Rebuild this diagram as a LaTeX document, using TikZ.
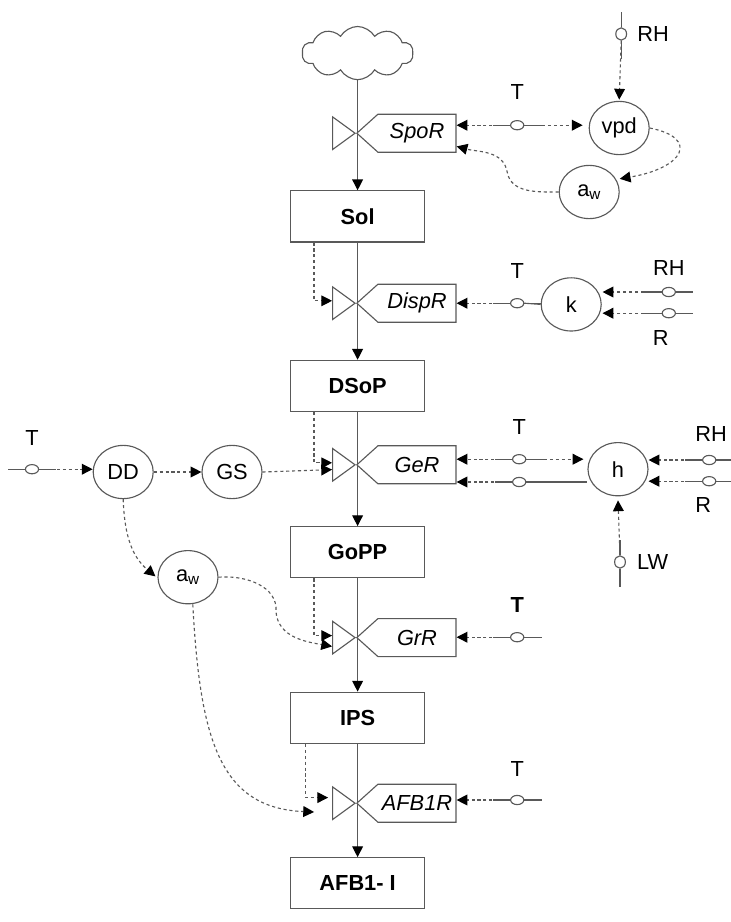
\documentclass[tikz,border=0pt]{standalone}
\usepackage{fontspec}
\setmainfont{Liberation Sans}
\usepackage{tikz}
\usetikzlibrary{positioning,arrows.meta,shapes.geometric,shapes.symbols}

\tikzset{
  wire/.style={draw=black!65, line width=0.8pt},
  dep/.style={wire, dash pattern=on 2.2pt off 2pt, -{Triangle[length=0.27cm,width=0.27cm,black]}},
  flow/.style={wire, -{Triangle[length=0.27cm,width=0.27cm,black]}},
  stock/.style={rectangle, wire, minimum width=3.35cm, minimum height=1.28cm, inner sep=0pt, font=\fontsize{15.5}{18}\selectfont\bfseries},
  aux/.style={ellipse, wire, minimum width=1.5cm, minimum height=1.33cm, inner sep=0pt},
  rate/.style={signal, signal to=west, signal pointer angle=84, wire, minimum width=2.48cm, minimum height=0.95cm, inner sep=0pt, font=\fontsize{15.5}{18}\selectfont\itshape},
  valve/.style={isosceles triangle, isosceles triangle apex angle=72, wire, minimum height=0.56cm, inner sep=0pt, anchor=apex},
  hsensor/.style={ellipse, wire, minimum width=0.33cm, minimum height=0.23cm, inner sep=0pt,
    append after command={(\tikzlastnode.west) edge[wire] ++(-0.43,0) (\tikzlastnode.east) edge[wire] ++(0.43,0)}},
  vsensor/.style={ellipse, wire, minimum width=0.27cm, minimum height=0.31cm, inner sep=0pt,
    append after command={(\tikzlastnode.north) edge[wire] ++(0,0.38) (\tikzlastnode.south) edge[wire] ++(0,-0.45)}},
  tag/.style={inner sep=0pt},
}

\begin{document}
\begin{tikzpicture}[node distance=2.83cm, every node/.style={font=\fontsize{15.5}{18}\selectfont}]
\useasboundingbox (0,0) rectangle (18.275,-23.05);
% stocks
\node (Sol) [stock] at (8.94,-5.41) {Sol};
\node (DSoP) [stock, below=2.93cm of Sol] {DSoP};
\node (GoPP) [stock, below=2.85cm of DSoP] {GoPP};
\node (IPS) [stock, below=of GoPP] {IPS};
\node (AFB) [stock, below=of IPS] {AFB1- I};
\node (Cloud) [cloud, cloud puffs=10, cloud puff arc=120, aspect=2.1, wire, minimum width=2.78cm, minimum height=1.33cm, inner sep=0pt, above=2.75cm of Sol] {};
% rates
\node (SpoR) [rate, anchor=west] at (8.9,-3.33) {SpoR\hspace{0.2cm}};
\node (DispR) [rate, anchor=west] at (8.9,-7.58) {DispR};
\node (GeR) [rate, anchor=west] at (8.9,-11.62) {GeR\hspace{0.5cm}};
\node (GrR) [rate, anchor=west] at (8.9,-15.94) {GrR\hspace{0.4cm}};
\node (AFBR) [rate, anchor=west] at (8.9,-20.08) {AFB1R\hspace{0.2cm}};
\node (vSpo) [valve] at (SpoR.west) {};
\node (vDisp) [valve] at (DispR.west) {};
\node (vGe) [valve] at (GeR.west) {};
\node (vGr) [valve] at (GrR.west) {};
\node (vAfb) [valve] at (AFBR.west) {};
% auxiliaries
\node (vpd) [aux] at (15.48,-3.2) {vpd};
\node (aw1) [aux] at (14.73,-4.8) {a\textsubscript{w}};
\node (k) [aux] at (14.28,-7.61) {k};
\node (h) [aux] at (15.45,-11.73) {h};
\node (DD) [aux] at (3.08,-11.8) {DD};
\node (GS) [aux] at (5.8,-11.8) {GS};
\node (aw2) [aux] at (4.7,-14.43) {a\textsubscript{w}};
% sensors
\node (rhTop) [vsensor] at (15.53,-0.85) {};
\node (tSpo) [hsensor] at (12.93,-3.13) {};
\node (tDisp) [hsensor] at (12.93,-7.58) {};
\node (rhDisp) [hsensor] at (16.72,-7.3) {};
\node (rDisp) [hsensor] at (16.72,-7.83) {};
\node (tGe) [hsensor] at (12.98,-11.48) {};
\node (tGeb) [hsensor] at (12.98,-12.05) {};
\node (rhGe) [hsensor] at (17.73,-11.5) {};
\node (rGe) [hsensor] at (17.73,-12.03) {};
\node (lwGe) [vsensor] at (15.5,-14.05) {};
\node (tDD) [hsensor] at (0.8,-11.73) {};
\node (tGr) [hsensor] at (12.93,-15.93) {};
\node (tAfb) [hsensor] at (12.93,-20) {};
% sensor names
\node (lRhTop) [tag, right=0.25cm of rhTop] {RH};
\node (lTSpo) [tag, above=0.5cm of tSpo] {T};
\node (lTDisp) [tag, above=0.47cm of tDisp] {T};
\node (lRhDisp) [tag, above=0.28cm of rhDisp] {RH};
\node (lRDisp) [tag, below=0.3cm of rDisp, xshift=-0.2cm] {R};
\node (lTGe) [tag, above=0.47cm of tGe] {T};
\node (lRhGe) [tag, above=0.32cm of rhGe, xshift=0.05cm] {RH};
\node (lRGe) [tag, below=0.28cm of rGe, xshift=-0.15cm] {R};
\node (lLw) [tag, right=0.27cm of lwGe] {LW};
\node (lTDD) [tag, above=0.45cm of tDD] {T};
\node (lTGr) [tag, above=0.47cm of tGr, font=\fontsize{15.5}{18}\selectfont\bfseries] {T};
\node (lTAfb) [tag, above=0.45cm of tAfb] {T};
% material flows
\draw[flow] (Cloud.south) -- (Sol.north);
\draw[flow] (Sol.south) -- (DSoP.north);
\draw[flow] (DSoP.south) -- (GoPP.north);
\draw[flow] (GoPP.south) -- (IPS.north);
\draw[flow] (IPS.south) -- (AFB.north);
% stock to valve
\draw[dep] ([xshift=0.6cm]Sol.south west) |- ([yshift=0.06cm]vDisp.west);
\draw[dep] ([xshift=0.6cm]DSoP.south west) |- ([yshift=0.05cm]vGe.west);
\draw[dep] ([xshift=0.6cm]GoPP.south west) |- ([yshift=0.05cm]vGr.west);
\draw[dep] ([xshift=0.38cm]IPS.south west) |- ([xshift=-0.1cm,yshift=0.14cm]vAfb.west);
% top right
\draw[dep] (rhTop.south) -- ([yshift=0.03cm]vpd.north);
\draw[dep] (tSpo) -- (tSpo -| SpoR.east);
\draw[dep, shorten >=0.15cm] (tSpo) -- (tSpo -| vpd.west);
\draw[dep] (vpd.east) .. controls (17.5,-3.45) and (17.1,-4.2) .. ([yshift=0.33cm]aw1.east);
\draw[dep] (aw1.west) to[out=180,in=-80] (12.68,-4.3) to[out=100,in=-15] ([yshift=-0.33cm]SpoR.east);
% dispersal
\draw[dep] (tDisp) -- (tDisp -| DispR.east);
\draw[dep, shorten >=0.02cm] (rhDisp) -- (rhDisp -| k.east);
\draw[dep, shorten >=0.02cm] (rDisp) -- (rDisp -| k.east);
\draw[wire] (tDisp.east) -- (k.west);
% germination
\draw[dep] (tGe) -- (tGe -| GeR.east);
\draw[dep, shorten >=0.1cm] (tGe) -- (tGe -| h.west);
\draw[dep] (tGeb) -- (tGeb -| GeR.east);
\draw[wire] (tGeb.east) -- (tGeb -| h.west);
\draw[dep] (rhGe) -- (rhGe -| h.east);
\draw[dep] (rGe) -- (rGe -| h.east);
\draw[dep] (lwGe.north) -- ([yshift=-0.1cm]h.south);
% growth and toxin
\draw[dep] (tGr) -- (tGr -| GrR.east);
\draw[dep] (tAfb) -- (tAfb -| AFBR.east);
% left side
\draw[dep] (tDD) -- (tDD -| DD.west);
\draw[dep] (DD.east) -- (GS.west);
\draw[dep] (GS.east) -- ([yshift=-0.12cm]vGe.west);
\draw[dep] (DD.south) to[out=-88,in=140] ([shift={(-0.05,0.02)}]aw2.west);
\draw[dep] (aw2.east) to[out=5,in=85] (6.9,-15.3) to[out=-85,in=170] ([yshift=-0.22cm]vGr.west);
\draw[dep] ([xshift=0.12cm]aw2.south) .. controls (5,-18.5) and (5.5,-20.2) .. ([xshift=-0.45cm,yshift=-0.22cm]vAfb.west);
\end{tikzpicture}
\end{document}
